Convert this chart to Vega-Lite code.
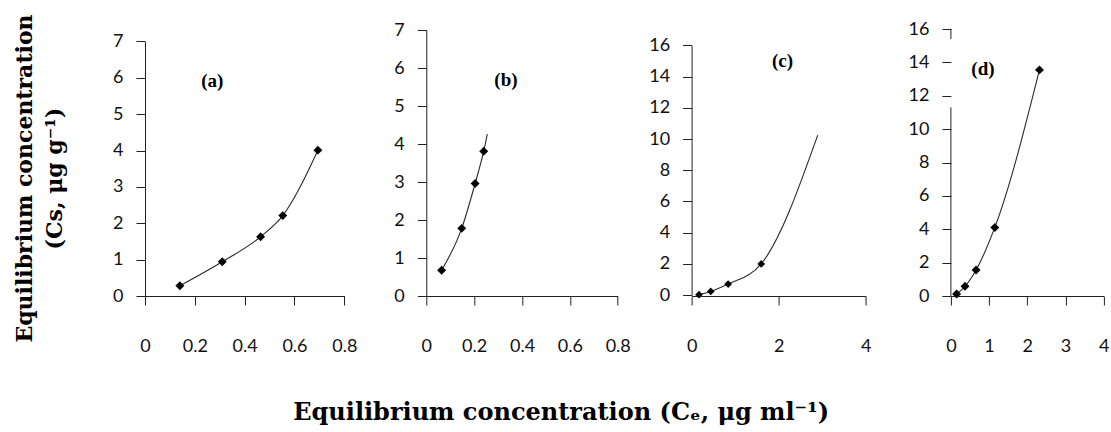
{
  "$schema": "https://vega.github.io/schema/vega-lite/v6.json",
  "background": "white",
  "padding": {"left": 13, "top": 13, "right": 2, "bottom": 2},
  "data": {"values": [
    {"panel": "a", "ce": 0.14, "cs": 0.28, "observed": true},
    {"panel": "a", "ce": 0.31, "cs": 0.94, "observed": true},
    {"panel": "a", "ce": 0.464, "cs": 1.63, "observed": true},
    {"panel": "a", "ce": 0.553, "cs": 2.21, "observed": true},
    {"panel": "a", "ce": 0.694, "cs": 4.01, "observed": true},
    {"panel": "b", "ce": 0.064, "cs": 0.68, "observed": true},
    {"panel": "b", "ce": 0.148, "cs": 1.78, "observed": true},
    {"panel": "b", "ce": 0.204, "cs": 2.96, "observed": true},
    {"panel": "b", "ce": 0.24, "cs": 3.81, "observed": true},
    {"panel": "b", "ce": 0.255, "cs": 4.26, "observed": false},
    {"panel": "c", "ce": 0.17, "cs": 0.02, "observed": true},
    {"panel": "c", "ce": 0.44, "cs": 0.23, "observed": true},
    {"panel": "c", "ce": 0.84, "cs": 0.7, "observed": true},
    {"panel": "c", "ce": 1.6, "cs": 1.99, "observed": true},
    {"panel": "c", "ce": 2.9, "cs": 10.25, "observed": false},
    {"panel": "d", "ce": 0.15, "cs": 0.12, "observed": true},
    {"panel": "d", "ce": 0.37, "cs": 0.58, "observed": true},
    {"panel": "d", "ce": 0.66, "cs": 1.56, "observed": true},
    {"panel": "d", "ce": 1.15, "cs": 4.11, "observed": true},
    {"panel": "d", "ce": 2.32, "cs": 13.55, "observed": true}
  ]},
  "title": {
    "text": "Equilibrium concentration (Cₑ, μg ml⁻¹)",
    "orient": "bottom",
    "anchor": "middle",
    "font": "DejaVu Serif",
    "fontSize": 24,
    "fontWeight": "bold",
    "color": "#000",
    "offset": 46
  },
  "bounds": "flush",
  "spacing": 73.3,
  "hconcat": [
    {
      "width": 208,
      "height": 267,
      "encoding": {
        "x": {"field": "ce", "type": "quantitative", "scale": {"domain": [0, 0.8], "range": [0, 199.3], "nice": false},
              "axis": {"title": null, "values": [0, 0.2, 0.4, 0.6, 0.8]}},
        "y": {"field": "cs", "type": "quantitative", "scale": {"domain": [0, 7], "range": [267, 12.4], "nice": false},
              "axis": {"title": ["Equilibrium concentration", "(Cs, μg g⁻¹)"], "values": [0, 1, 2, 3, 4, 5, 6, 7],
                       "titleFont": "DejaVu Serif", "titleFontSize": 22, "titleFontWeight": "bold", "titleColor": "#000",
                       "titleLineHeight": 30, "titlePadding": 46, "titleY": 149}}
      },
      "layer": [
        {
          "transform": [{"filter": "datum.panel === 'a'"}],
          "mark": {"type": "line", "interpolate": "monotone", "color": "#2a2a2a", "strokeWidth": 1.1}
        },
        {
          "transform": [{"filter": "datum.panel === 'a' && datum.observed"}],
          "mark": {"type": "point", "shape": "diamond", "filled": true, "color": "#000", "size": 80, "opacity": 1}
        },
        {
          "data": {"values": [{"label": "(a)", "ce": 0.27, "cs": 5.92}]},
          "mark": {"type": "text", "font": "Liberation Serif", "fontSize": 19, "fontWeight": "bold", "color": "#000"},
          "encoding": {"text": {"field": "label"}}
        }
      ]
    },
    {
      "width": 191.4,
      "height": 267,
      "encoding": {
        "x": {"field": "ce", "type": "quantitative", "scale": {"domain": [0, 0.8], "range": [0, 191.4], "nice": false},
              "axis": {"title": null, "values": [0, 0.2, 0.4, 0.6, 0.8]}},
        "y": {"field": "cs", "type": "quantitative", "scale": {"domain": [0, 7], "range": [267, 1], "nice": false},
              "axis": {"title": null, "values": [0, 1, 2, 3, 4, 5, 6, 7]}}
      },
      "layer": [
        {
          "transform": [{"filter": "datum.panel === 'b'"}],
          "mark": {"type": "line", "interpolate": "monotone", "color": "#2a2a2a", "strokeWidth": 1.1}
        },
        {
          "transform": [{"filter": "datum.panel === 'b' && datum.observed"}],
          "mark": {"type": "point", "shape": "diamond", "filled": true, "color": "#000", "size": 80, "opacity": 1}
        },
        {
          "data": {"values": [{"label": "(b)", "ce": 0.333, "cs": 5.69}]},
          "mark": {"type": "text", "font": "Liberation Serif", "fontSize": 19, "fontWeight": "bold", "color": "#000"},
          "encoding": {"text": {"field": "label"}}
        }
      ]
    },
    {
      "width": 185.7,
      "height": 267,
      "encoding": {
        "x": {"field": "ce", "type": "quantitative", "scale": {"domain": [0, 4], "range": [0, 174], "nice": false},
              "axis": {"title": null, "values": [0, 2, 4]}},
        "y": {"field": "cs", "type": "quantitative", "scale": {"domain": [0, 16], "range": [266, 16.4], "nice": false},
              "axis": {"title": null, "values": [0, 2, 4, 6, 8, 10, 12, 14, 16]}}
      },
      "layer": [
        {
          "transform": [{"filter": "datum.panel === 'c'"}],
          "mark": {"type": "line", "interpolate": "monotone", "color": "#2a2a2a", "strokeWidth": 1.1}
        },
        {
          "transform": [{"filter": "datum.panel === 'c' && datum.observed"}],
          "mark": {"type": "point", "shape": "diamond", "filled": true, "color": "#000", "size": 60, "opacity": 1}
        },
        {
          "data": {"values": [{"label": "(c)", "ce": 2.09, "cs": 15.0}]},
          "mark": {"type": "text", "font": "Liberation Serif", "fontSize": 19, "fontWeight": "bold", "color": "#000"},
          "encoding": {"text": {"field": "label"}}
        }
      ]
    },
    {
      "width": 152.7,
      "height": 267,
      "encoding": {
        "x": {"field": "ce", "type": "quantitative", "scale": {"domain": [0, 4], "range": [0, 152.7], "nice": false},
              "axis": {"title": null, "values": [0, 1, 2, 3, 4]}},
        "y": {"field": "cs", "type": "quantitative", "scale": {"domain": [0, 16], "range": [267, 0], "nice": false},
              "axis": {"title": null, "values": [0, 2, 4, 6, 8, 10, 12, 14, 16], "domain": false}}
      },
      "layer": [
        {
          "transform": [{"filter": "datum.panel === 'd'"}],
          "mark": {"type": "line", "interpolate": "monotone", "color": "#2a2a2a", "strokeWidth": 1.1}
        },
        {
          "transform": [{"filter": "datum.panel === 'd' && datum.observed"}],
          "mark": {"type": "point", "shape": "diamond", "filled": true, "color": "#000", "size": 80, "opacity": 1}
        },
        {
          "data": {"values": [{"ce": 0, "cs": 0, "cs_end": 11.3}, {"ce": 0, "cs": 15.4, "cs_end": 16}]},
          "mark": {"type": "rule", "color": "#222", "strokeWidth": 1},
          "encoding": {"y2": {"field": "cs_end"}}
        },
        {
          "data": {"values": [{"label": "(d)", "ce": 0.84, "cs": 13.6}]},
          "mark": {"type": "text", "font": "Liberation Serif", "fontSize": 19, "fontWeight": "bold", "color": "#000"},
          "encoding": {"text": {"field": "label"}}
        }
      ]
    }
  ],
  "config": {
    "view": {"stroke": null},
    "axis": {
      "grid": false,
      "domainColor": "#222",
      "tickColor": "#222",
      "domainWidth": 1,
      "tickWidth": 1,
      "tickSize": 9,
      "labelFont": "Lato",
      "labelFontSize": 18,
      "labelColor": "#111",
      "labelOverlap": false,
      "labelFlush": false,
      "format": "~g"
    },
    "axisX": {"labelPadding": 32},
    "axisY": {"labelPadding": 13}
  }
}
